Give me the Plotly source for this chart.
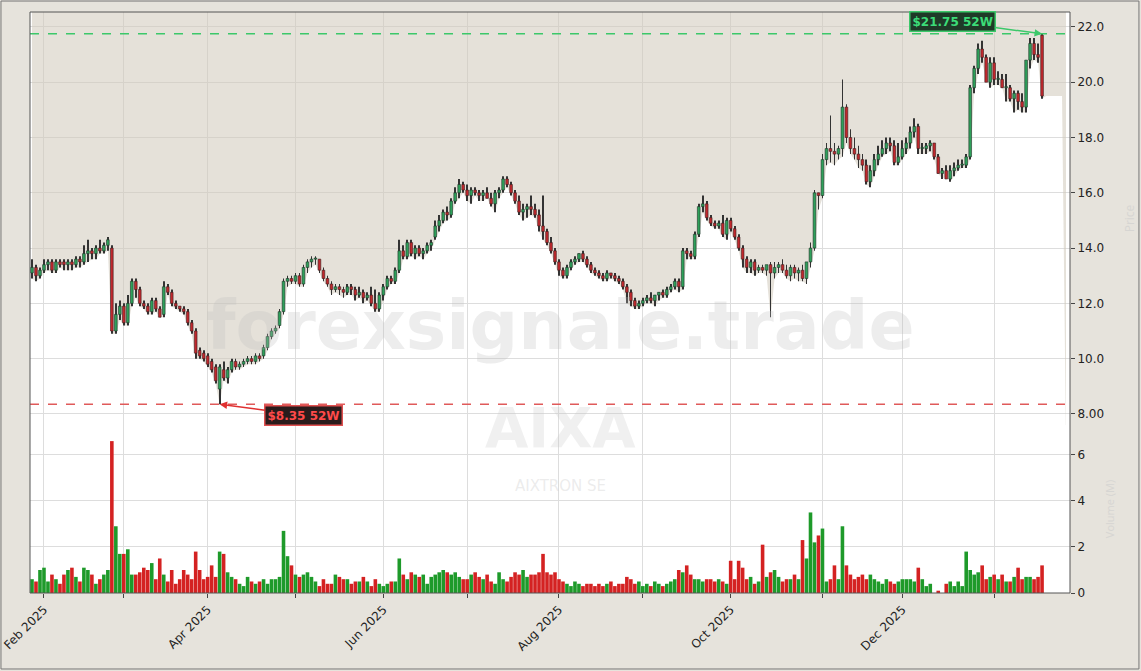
import pandas as pd
import plotly.graph_objects as go

start_date = "2025-01-29"
opens = [13.1,13.3,13.0,13.2,13.4,13.5,13.2,13.5,13.5,13.4,
13.5,13.4,13.6,13.5,13.8,13.9,13.8,14.0,13.9,14.1,
14.0,11.0,11.6,11.9,11.3,12.0,12.8,12.5,12.0,11.9,
11.7,12.1,11.8,11.6,12.6,12.4,12.0,11.9,11.8,11.7,
11.3,11.0,10.3,10.2,10.1,9.9,9.7,8.9,9.6,9.3,
9.6,9.9,9.7,9.8,9.9,10.0,9.9,10.1,10.1,10.4,
10.8,11.0,11.2,11.7,12.8,12.9,12.8,13.0,12.7,13.3,
13.5,13.6,13.6,13.2,12.9,12.7,12.5,12.6,12.5,12.4,
12.6,12.5,12.3,12.4,12.2,12.3,12.0,11.8,12.3,12.6,
12.9,12.8,13.2,13.9,13.7,14.2,13.8,14.0,13.8,13.9,
14.1,14.4,14.8,15.0,15.3,15.2,15.7,16.0,16.3,16.1,
15.9,16.1,16.0,15.9,16.0,15.8,15.6,16.0,16.1,16.5,
16.3,16.0,15.7,15.3,15.4,15.5,15.4,15.2,14.8,14.6,
14.2,13.9,13.5,13.2,13.0,13.3,13.5,13.6,13.8,13.6,
13.4,13.2,13.1,13.0,12.9,13.1,13.0,12.9,12.8,12.6,
12.4,12.1,11.9,12.0,12.1,12.2,12.1,12.3,12.4,12.3,
12.5,12.6,12.8,12.6,13.9,13.8,13.7,14.5,15.5,15.6,
15.1,14.9,14.8,14.9,14.5,15.0,14.7,14.4,14.0,13.6,
13.3,13.5,13.2,13.3,13.2,13.4,13.1,13.3,13.4,13.2,
13.0,13.3,13.1,13.2,12.9,13.5,14.0,16.0,15.9,17.2,
17.6,17.5,17.4,17.6,19.1,18.0,17.6,17.4,17.2,17.0,
16.4,16.8,17.2,17.4,17.6,17.8,17.7,17.1,17.3,17.6,
17.8,18.2,18.4,17.6,17.6,17.7,17.8,17.3,16.7,16.8,
16.5,16.8,16.9,17.0,17.0,17.3,19.8,20.5,21.2,20.9,
20.0,20.7,20.1,20.1,19.8,19.8,19.4,19.6,19.3,19.1,
20.8,21.4,21.0,21.7]
closes = [13.3,13.0,13.2,13.4,13.5,13.2,13.5,13.4,13.4,13.5,
13.4,13.6,13.5,13.8,13.9,13.8,14.0,13.9,14.1,14.3,
11.0,11.6,11.9,11.3,12.0,12.8,12.5,12.0,11.9,11.7,
12.1,11.8,11.5,12.6,12.4,12.0,11.9,11.8,11.7,11.3,
11.0,10.2,10.1,10.0,9.8,9.6,9.2,9.7,9.3,9.6,
9.9,9.7,9.8,9.9,10.0,9.9,10.1,10.0,10.4,10.8,
11.0,11.1,11.7,12.8,12.9,12.8,13.0,12.7,13.3,13.5,
13.6,13.6,13.2,12.9,12.7,12.5,12.6,12.5,12.4,12.6,
12.5,12.3,12.4,12.2,12.3,12.0,11.8,12.3,12.6,12.9,
12.8,13.2,13.9,13.7,14.2,13.8,14.0,13.8,13.9,14.1,
14.2,14.8,15.0,15.3,15.2,15.7,16.0,16.3,16.1,15.9,
16.1,16.0,15.9,16.0,15.8,15.6,16.0,16.1,16.5,16.3,
16.0,15.7,15.3,15.4,15.5,15.4,15.2,14.8,14.6,14.2,
13.9,13.5,13.2,13.0,13.3,13.5,13.6,13.8,13.6,13.4,
13.2,13.1,13.0,12.9,13.1,13.0,12.9,12.8,12.6,12.4,
12.1,11.9,12.0,12.1,12.2,12.1,12.3,12.4,12.3,12.5,
12.6,12.8,12.6,13.9,13.8,13.7,14.5,15.5,15.6,15.1,
14.9,14.8,14.9,14.5,15.0,14.7,14.4,14.0,13.6,13.3,
13.5,13.2,13.3,13.2,13.4,13.1,13.3,13.4,13.2,13.0,
13.3,13.1,13.2,12.9,13.5,14.0,16.0,15.9,17.2,17.6,
17.5,17.4,17.6,19.1,18.0,17.6,17.4,17.2,17.0,16.4,
16.8,17.2,17.4,17.6,17.8,17.7,17.1,17.3,17.6,17.8,
18.2,18.4,17.6,17.6,17.7,17.8,17.3,16.7,16.8,16.5,
16.8,16.9,17.0,17.0,17.3,19.8,20.5,21.2,20.9,20.0,
20.7,20.1,20.1,19.8,19.8,19.4,19.6,19.3,19.1,20.8,
21.4,21.0,20.9,19.5]
highs = [13.6,13.4,13.3,13.6,13.6,13.6,13.6,13.6,13.6,13.6,
13.6,13.7,13.7,14.1,14.3,14.0,14.1,14.3,14.2,14.4,
14.1,12.0,12.1,12.0,12.3,12.9,12.9,12.6,12.1,12.0,
12.2,12.2,11.9,12.8,12.7,12.5,12.1,11.9,11.9,11.8,
11.4,11.1,10.4,10.3,10.2,10.0,9.8,9.8,9.9,9.7,
10.0,10.0,9.9,10.0,10.1,10.1,10.2,10.2,10.5,10.9,
11.1,11.2,11.8,12.9,13.0,13.0,13.1,13.1,13.4,13.6,
13.7,13.7,13.6,13.3,13.0,12.8,12.7,12.7,12.6,12.7,
12.7,12.6,12.6,12.5,12.4,12.6,12.5,12.4,12.7,13.0,
13.0,13.3,14.3,14.1,14.3,14.3,14.1,14.1,14.0,14.2,
14.3,15.0,15.2,15.4,15.5,15.8,16.2,16.5,16.4,16.3,
16.2,16.2,16.1,16.1,16.2,16.0,16.1,16.2,16.6,16.6,
16.4,16.1,15.9,15.6,15.6,15.9,15.6,15.4,15.9,14.7,
14.4,14.0,13.6,13.3,13.4,13.6,13.7,13.8,13.9,13.7,
13.5,13.3,13.2,13.1,13.2,13.1,13.1,13.0,12.9,12.7,
12.5,12.2,12.1,12.2,12.3,12.4,12.3,12.4,12.5,12.6,
12.7,12.9,12.9,14.0,14.0,13.9,14.6,15.6,15.9,15.7,
15.2,15.0,15.0,15.2,15.1,15.1,14.8,14.5,14.1,13.7,
13.6,13.6,13.4,13.4,13.3,13.5,13.5,13.5,13.6,13.4,
13.4,13.4,13.3,13.4,13.3,14.2,16.1,16.0,17.4,17.8,
18.8,17.8,17.7,20.1,19.2,18.3,18.0,17.7,17.4,17.2,
17.0,17.4,17.7,17.9,18.0,18.0,17.9,17.8,17.9,18.0,
18.4,18.7,18.5,17.8,17.8,17.9,17.8,17.4,16.9,17.0,
17.0,17.1,17.2,17.2,17.4,19.9,20.6,21.4,21.5,21.0,
20.9,20.9,20.4,20.3,20.3,19.9,19.7,19.7,19.6,20.0,
21.6,21.6,21.4,21.75]
lows = [12.9,12.8,12.9,13.1,13.2,13.1,13.1,13.3,13.2,13.2,
13.2,13.3,13.3,13.4,13.5,13.6,13.6,13.8,13.8,13.9,
10.9,10.9,11.4,11.2,11.2,11.9,12.2,11.9,11.8,11.6,
11.6,11.7,11.5,11.5,12.3,11.9,11.8,11.7,11.6,11.2,
10.9,10.0,10.0,9.9,9.7,9.5,9.1,8.35,9.2,9.1,
9.5,9.6,9.6,9.7,9.8,9.8,9.8,9.9,10.0,10.3,
10.7,10.9,11.1,11.6,12.6,12.7,12.7,12.6,12.6,13.1,
13.3,13.4,13.1,12.8,12.6,12.3,12.4,12.3,12.2,12.3,
12.3,12.1,12.2,12.0,12.1,11.9,11.7,11.7,12.1,12.5,
12.7,12.7,13.1,13.6,13.6,13.7,13.6,13.7,13.6,13.8,
13.9,14.3,14.6,14.9,15.0,15.1,15.6,15.8,16.0,15.7,
15.6,15.9,15.7,15.7,15.8,15.5,15.3,15.8,16.0,16.2,
15.9,15.6,15.2,15.0,15.1,15.2,15.1,14.6,14.3,14.1,
13.8,13.4,13.0,12.9,12.9,13.2,13.4,13.5,13.5,13.3,
13.1,13.0,12.9,12.8,12.8,12.9,12.8,12.7,12.5,12.0,
11.9,11.8,11.8,11.9,12.0,12.0,11.9,12.1,12.2,12.2,
12.4,12.5,12.4,12.5,13.6,13.6,13.6,14.4,15.3,15.0,
14.8,14.7,14.7,14.4,14.3,14.6,14.3,13.9,13.3,13.1,
13.1,13.0,13.1,13.1,13.0,11.5,12.9,13.1,13.1,12.9,
12.8,12.9,12.8,12.8,12.7,13.3,13.9,15.4,15.8,17.0,
17.1,17.0,17.2,17.3,17.8,17.4,17.2,16.9,16.8,16.3,
16.2,16.6,17.0,17.3,17.4,17.5,17.0,17.0,17.2,17.4,
17.6,18.0,17.4,17.4,17.4,17.5,17.2,16.7,16.5,16.6,
16.4,16.6,16.8,16.9,16.9,17.2,19.6,20.3,20.7,20.1,
19.8,19.9,19.9,19.8,19.3,19.3,18.9,19.0,18.9,18.9,
20.5,20.8,20.7,19.4]
volumes = [0.6,0.5,1.0,1.1,0.5,0.8,0.6,0.4,0.8,1.0,
1.1,0.7,0.5,1.1,1.0,0.8,0.4,0.6,0.8,1.0,
6.6,2.9,1.7,1.7,1.9,0.8,0.8,0.9,1.1,1.0,
1.3,0.6,1.5,0.8,0.5,1.0,0.4,0.6,1.0,0.8,
0.6,1.8,1.0,0.6,0.7,1.2,0.7,1.8,1.7,0.9,
0.7,0.6,0.4,0.3,0.7,0.5,0.4,0.5,0.6,0.4,
0.6,0.6,0.7,2.7,1.6,1.2,0.8,0.7,0.8,0.9,
0.7,0.5,0.3,0.6,0.4,0.4,0.8,0.7,0.6,0.6,
0.4,0.5,0.5,0.7,0.5,0.3,0.6,0.4,0.3,0.4,
0.5,0.5,1.5,0.8,0.6,0.9,0.8,0.7,0.8,0.4,
0.7,0.8,0.9,1.0,0.9,0.8,0.9,0.7,0.6,0.6,
0.8,0.9,0.7,0.6,0.8,0.5,0.4,0.9,0.6,0.5,
0.7,0.9,0.8,1.0,0.7,0.8,0.8,0.9,1.7,0.9,
0.8,0.9,0.6,0.5,0.4,0.3,0.5,0.4,0.3,0.4,
0.4,0.3,0.4,0.3,0.4,0.5,0.3,0.4,0.4,0.7,
0.6,0.4,0.5,0.3,0.4,0.3,0.5,0.4,0.3,0.4,
0.5,0.6,1.0,0.9,1.2,0.8,0.6,0.6,0.5,0.6,
0.6,0.5,0.6,0.5,0.4,1.4,0.6,1.4,1.1,0.6,
0.7,0.4,0.5,2.1,0.7,0.9,1.0,0.7,0.5,0.6,
0.6,0.8,0.6,2.3,1.5,3.5,2.2,2.5,2.8,0.5,
0.6,1.2,0.6,2.9,1.2,0.8,0.6,0.7,0.8,0.6,
0.8,0.6,0.5,0.4,0.6,0.5,0.4,0.5,0.6,0.6,
0.6,0.5,1.1,0.6,0.3,0.4,0.0,0.1,0.0,0.4,
0.5,0.3,0.5,0.3,1.8,1.0,0.8,0.9,1.2,0.6,
0.7,0.8,0.6,0.8,0.5,0.5,0.7,1.1,0.6,0.7,
0.7,0.6,0.7,1.2]
high_52w = 21.75
low_52w = 8.35
month_ticks = ["2025-02-03","2025-03-03","2025-04-01","2025-05-01","2025-06-02","2025-07-01",
               "2025-08-01","2025-09-01","2025-10-01","2025-11-03","2025-12-01","2026-01-01"]
month_labels = ["Feb 2025","","Apr 2025","","Jun 2025","","Aug 2025","","Oct 2025","","Dec 2025",""]
price_ticks = [8,10,12,14,16,18,20,22]
price_labels = ["8.00","10.0","12.0","14.0","16.0","18.0","20.0","22.0"]

dates = pd.bdate_range(start_date, periods=len(closes))
BEIGE = "#e6e3dc"
GREEN_V = "#1e9a2a"
RED_V = "#d42222"
DAY = 86400000

ext_dates = list(dates) + list(pd.bdate_range(dates[-1] + pd.Timedelta(days=1), "2026-01-27"))
ext_lows = list(lows) + [19.5] * (len(ext_dates) - len(lows) - 1) + [7.0]
PTOP = 22.54
PBOT = 7.6

fig = go.Figure()
fig.add_trace(go.Scatter(x=ext_dates, y=ext_lows, mode="lines", line=dict(width=0),
                         hoverinfo="skip", showlegend=False, yaxis="y"))
fig.add_trace(go.Scatter(x=ext_dates, y=[PTOP + 1] * len(ext_dates), mode="lines", line=dict(width=0),
                         fill="tonexty", fillcolor="rgba(208,201,186,0.55)",
                         hoverinfo="skip", showlegend=False, yaxis="y"))

up = [c >= o for o, c in zip(opens, closes)]
body_base = [min(o, c) for o, c in zip(opens, closes)]
body_h = [max(abs(c - o), 0.04) for o, c in zip(opens, closes)]
wick_h = [h - l for h, l in zip(highs, lows)]
fig.add_trace(go.Bar(x=dates, y=wick_h, base=lows, width=0.2 * DAY,
                     marker=dict(color="#333333", line=dict(width=0)),
                     showlegend=False, hoverinfo="skip", yaxis="y3"))
fig.add_trace(go.Bar(x=dates, y=body_h, base=body_base, width=0.68 * DAY,
                     marker=dict(color=["#2ea05a" if u else "#c0282d" for u in up],
                                 line=dict(color=["#1f3326" if u else "#3a2020" for u in up], width=0.6)),
                     showlegend=False, yaxis="y3"))
vcolors = [GREEN_V if u else RED_V for u in up]
fig.add_trace(go.Bar(x=dates, y=volumes, width=0.9 * DAY, marker=dict(color=vcolors, line=dict(width=0)),
                     showlegend=False, yaxis="y2"))

fig.add_hline(y=high_52w, line=dict(color="#3cc86a", width=1.5, dash="dash"), yref="y")
fig.add_hline(y=low_52w, line=dict(color="#e05a5a", width=1.5, dash="dash"), yref="y")

vdom = 168 / 581
axfont = dict(family="DejaVu Sans", size=12, color="#222")
fig.update_layout(
    width=1141, height=671,
    margin=dict(l=30, r=71, t=12, b=78),
    paper_bgcolor=BEIGE, plot_bgcolor="white",
    barmode="overlay",
    xaxis=dict(type="date", range=["2025-01-28 12:00", "2026-01-28"],
               rangebreaks=[dict(bounds=["sat", "mon"])],
               tickvals=month_ticks, ticktext=month_labels, tickangle=-45,
               tickfont=axfont, automargin=False,
               showgrid=True, gridcolor="#dddddd", ticks="outside", ticklen=4,
               showline=False, anchor="y2"),
    yaxis=dict(domain=[vdom, 1], range=[PBOT, PTOP], side="right", automargin=False,
               tickvals=price_ticks, ticktext=price_labels, tickfont=axfont,
               showgrid=True, gridcolor="#dddddd", ticks="outside", ticklen=4,
               showline=False, zeroline=False,
               title=dict(text="Price", standoff=22, font=dict(color="rgba(205,205,205,0.6)", size=12))),
    yaxis3=dict(domain=[vdom, 1], range=[PBOT, PTOP], overlaying="y", side="right",
                showgrid=False, showticklabels=False, zeroline=False, automargin=False),
    yaxis2=dict(domain=[0, vdom], range=[0, 7.3], side="right", automargin=False,
                tickvals=[0, 2, 4, 6], tickfont=axfont,
                showgrid=True, gridcolor="#dddddd", ticks="outside", ticklen=4,
                showline=False, zeroline=False,
                title=dict(text="Volume (M)", standoff=22, font=dict(color="rgba(205,205,205,0.6)", size=11))),
)

fig.add_annotation(xref="paper", yref="paper", x=0.51, y=0.46, text="<b>forexsignale.trade</b>",
                   showarrow=False, font=dict(family="DejaVu Sans", size=68, color="rgba(190,190,190,0.28)"))
fig.add_annotation(xref="paper", yref="paper", x=0.51, y=0.225, text="<b>AIXA</b>",
                   showarrow=False, font=dict(family="DejaVu Sans", size=56, color="rgba(200,200,200,0.28)"))
fig.add_annotation(xref="paper", yref="paper", x=0.51, y=0.165, text="AIXTRON SE",
                   showarrow=False, font=dict(family="DejaVu Sans", size=15, color="rgba(200,200,200,0.35)"))

fig.add_annotation(x=dates[-1], y=high_52w, xref="x", yref="y", text="<b>$21.75 52W</b>",
                   showarrow=True, arrowhead=2, arrowsize=1, arrowwidth=1.5, arrowcolor="#3cc86a",
                   ax=-90, ay=-12, font=dict(family="DejaVu Sans", size=12, color="#3cdc78"),
                   bgcolor="#1f3a28", bordercolor="#3cc86a", borderwidth=1.5, borderpad=2)
fig.add_annotation(x=dates[47], y=low_52w, xref="x", yref="y", text="<b>$8.35 52W</b>",
                   showarrow=True, arrowhead=2, arrowsize=1, arrowwidth=1.5, arrowcolor="#e03030",
                   ax=84, ay=11, font=dict(family="DejaVu Sans", size=12, color="#ff4a4a"),
                   bgcolor="#2a1c1c", bordercolor="#e05050", borderwidth=1.5, borderpad=2)

fig.add_shape(type="rect", xref="paper", yref="paper", x0=0, x1=1, y0=0, y1=1,
              line=dict(color="#555", width=1), fillcolor="rgba(0,0,0,0)")
fig.add_shape(type="rect", xref="paper", yref="paper", x0=-0.0279, x1=1.0663, y0=-0.1308, y1=1.0189,
              line=dict(color="#777", width=1), fillcolor="rgba(0,0,0,0)", layer="below")

fig.write_html("out.html", config={"displayModeBar": False},
               post_script="document.body.style.margin='0';")
